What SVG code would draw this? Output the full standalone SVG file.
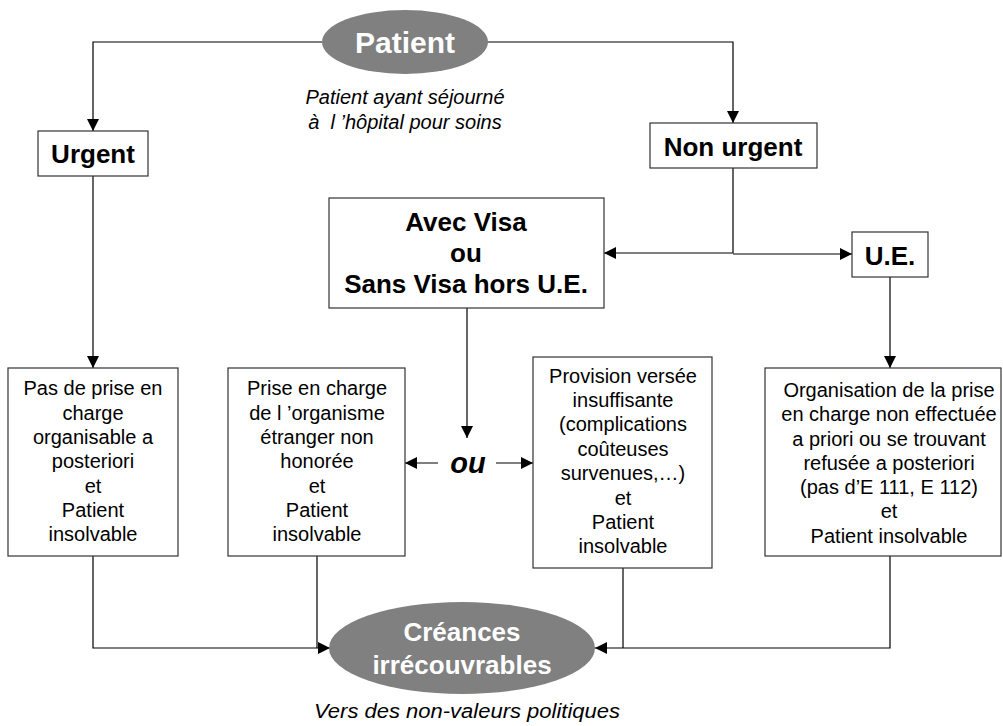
<svg xmlns="http://www.w3.org/2000/svg" width="1003" height="726" viewBox="0 0 1003 726">
<defs>
<marker id="arr" markerUnits="userSpaceOnUse" markerWidth="12" markerHeight="12" viewBox="0 0 10 10" refX="10" refY="5" orient="auto">
<path d="M0,0 L10,5 L0,10 z" fill="#000"/>
</marker>
</defs>
<style>
.box{fill:#fff;stroke:#333;stroke-width:1.2}
.ell{fill:#808080;stroke:none}
.con{fill:none;stroke:#000;stroke-width:1.2}
.t{font-family:"Liberation Sans",Arial,sans-serif;text-anchor:middle;fill:#000}
.b{font-weight:bold;font-size:26px}
.n{font-size:20px}
.w{fill:#fff;font-weight:bold}
.i{font-style:italic;font-size:20px}
</style>
<rect width="1003" height="726" fill="#fff"/>
<g id="connectors">
<path class="con" d="M322,42 H93 V131" marker-end="url(#arr)"/>
<path class="con" d="M487,42 H733 V123" marker-end="url(#arr)"/>
<path class="con" d="M733,168 V253 H604" marker-end="url(#arr)"/>
<path class="con" d="M733,254 H852" marker-end="url(#arr)"/>
<path class="con" d="M93,176 V368" marker-end="url(#arr)"/>
<path class="con" d="M890,277 V368" marker-end="url(#arr)"/>
<path class="con" d="M467,308 V438" marker-end="url(#arr)"/>
<path class="con" d="M438,463 H405" marker-end="url(#arr)"/>
<path class="con" d="M496,463 H533" marker-end="url(#arr)"/>
<path class="con" d="M93,556 V648 H330" marker-end="url(#arr)"/>
<path class="con" d="M317,556 V648"/>
<path class="con" d="M890,556 V648 H595" marker-end="url(#arr)"/>
<path class="con" d="M623,568 V648"/>
</g>
<g id="patient">
<ellipse class="ell" cx="405" cy="42" rx="83" ry="32"/>
<text class="t w" x="405" y="53" font-size="30">Patient</text>
</g>
<g id="patient-note">
<text class="t i" x="405" y="104">Patient ayant séjourné</text>
<text class="t i" x="405" y="129" xml:space="preserve">à  l ’hôpital pour soins</text>
</g>
<g id="urgent">
<rect class="box" x="38" y="131" width="110" height="45"/>
<text class="t b" x="93" y="163">Urgent</text>
</g>
<g id="non-urgent">
<rect class="box" x="650" y="123" width="167" height="45"/>
<text class="t b" x="733" y="156">Non urgent</text>
</g>
<g id="avec-visa">
<rect class="box" x="329" y="198" width="275" height="110"/>
<text class="t b" x="466" y="231">Avec Visa</text>
<text class="t b" x="466" y="262">ou</text>
<text class="t b" x="466" y="293">Sans Visa hors U.E.</text>
</g>
<g id="ue">
<rect class="box" x="852" y="232" width="76" height="45"/>
<text class="t b" x="890" y="265">U.E.</text>
</g>
<g id="ou">
<text class="t" x="468" y="473" font-size="29" font-weight="bold" font-style="italic">ou</text>
</g>
<g id="box1">
<rect class="box" x="8" y="368" width="170" height="188"/>
<text class="t n" x="93" y="395">Pas de prise en</text>
<text class="t n" x="93" y="420">charge</text>
<text class="t n" x="93" y="444">organisable a</text>
<text class="t n" x="93" y="468">posteriori</text>
<text class="t n" x="93" y="493">et</text>
<text class="t n" x="93" y="517">Patient</text>
<text class="t n" x="93" y="541">insolvable</text>
</g>
<g id="box2">
<rect class="box" x="228" y="368" width="177" height="188"/>
<text class="t n" x="317" y="395">Prise en charge</text>
<text class="t n" x="317" y="420">de l ’organisme</text>
<text class="t n" x="317" y="444">étranger non</text>
<text class="t n" x="317" y="468">honorée</text>
<text class="t n" x="317" y="493">et</text>
<text class="t n" x="317" y="517">Patient</text>
<text class="t n" x="317" y="541">insolvable</text>
</g>
<g id="box3">
<rect class="box" x="533" y="357" width="179" height="211"/>
<text class="t n" x="623" y="383">Provision versée</text>
<text class="t n" x="623" y="407">insuffisante</text>
<text class="t n" x="623" y="431">(complications</text>
<text class="t n" x="623" y="456">coûteuses</text>
<text class="t n" x="623" y="480">survenues,…)</text>
<text class="t n" x="623" y="505">et</text>
<text class="t n" x="623" y="529">Patient</text>
<text class="t n" x="623" y="553">insolvable</text>
</g>
<g id="box4">
<rect class="box" x="765" y="368" width="236" height="188"/>
<text class="t n" x="889" y="397">Organisation de la prise</text>
<text class="t n" x="889" y="421">en charge non effectuée</text>
<text class="t n" x="889" y="446">a priori ou se trouvant</text>
<text class="t n" x="889" y="470">refusée a posteriori</text>
<text class="t n" x="889" y="494">(pas d’E 111, E 112)</text>
<text class="t n" x="889" y="518">et</text>
<text class="t n" x="889" y="543">Patient insolvable</text>
</g>
<g id="creances">
<ellipse class="ell" cx="462" cy="648" rx="133" ry="46"/>
<text class="t w" x="462" y="641" font-size="26">Créances</text>
<text class="t w" x="462" y="674" font-size="26">irrécouvrables</text>
</g>
<g id="creances-note">
<text class="t i" x="467" y="718" textLength="306" lengthAdjust="spacingAndGlyphs">Vers des non-valeurs politiques</text>
</g>
</svg>
